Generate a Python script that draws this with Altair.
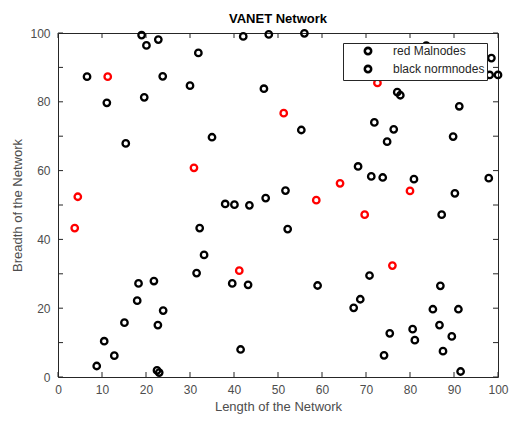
import altair as alt
import pandas as pd

red_x = [4.5, 3.8, 11.3, 30.9, 41.2, 51.3, 58.7, 64.1, 69.7, 72.6, 76.0, 80.0]
red_y = [52.4, 43.3, 87.3, 60.8, 30.9, 76.7, 51.4, 56.3, 47.2, 85.5, 32.4, 54.1]

black_x = [6.6, 11.1, 15.4, 19.0, 20.1, 22.8, 19.6, 23.8, 30.0, 31.9, 35.0, 42.1,
           47.9, 46.8, 56.0, 55.3, 83.7, 83.7, 98.5, 98.1, 100.0, 77.1, 77.8, 91.2,
           71.9, 76.3, 74.8, 89.8, 68.2, 71.2, 73.8, 80.9, 97.9, 51.7, 47.2, 90.2,
           38.0, 40.1, 43.5, 32.2, 33.2, 31.5, 39.6, 43.2, 18.3, 21.8, 18.0, 23.9,
           15.1, 22.7, 10.5, 12.8, 8.8, 22.5, 23.0, 41.5, 87.2, 52.2, 70.8, 59.0,
           86.9, 68.7, 67.2, 85.2, 91.0, 86.7, 80.6, 75.4, 81.1, 89.5, 74.1, 87.5,
           91.5]
black_y = [87.3, 79.7, 67.9, 99.4, 96.4, 98.1, 81.3, 87.4, 84.7, 94.2, 69.7, 99.0,
           99.6, 83.8, 99.9, 71.8, 96.3, 87.3, 92.7, 87.8, 87.8, 82.8, 81.9, 78.7,
           74.0, 72.0, 68.4, 69.9, 61.2, 58.3, 58.0, 57.5, 57.8, 54.2, 52.0, 53.4,
           50.3, 50.1, 49.9, 43.3, 35.5, 30.2, 27.2, 26.8, 27.2, 27.9, 22.2, 19.3,
           15.8, 15.1, 10.4, 6.2, 3.2, 1.9, 1.3, 8.0, 47.2, 43.0, 29.5, 26.6,
           26.5, 22.6, 20.1, 19.7, 19.7, 15.1, 13.9, 12.7, 10.7, 11.8, 6.3, 7.5,
           1.6]

series_names = ["red Malnodes", "black normnodes"]
series_colors = ["#ff0000", "#000000"]
tick_values = [0, 10, 20, 30, 40, 50, 60, 70, 80, 90, 100]

W, H = 440, 344
FONT = "Liberation Sans"
AX = "#262626"

df = pd.concat([
    pd.DataFrame({"x": red_x, "y": red_y, "series": series_names[0]}),
    pd.DataFrame({"x": black_x, "y": black_y, "series": series_names[1]}),
], ignore_index=True)
df["legend"] = df["series"]

xs = alt.Scale(domain=[0, 100], nice=False, zero=False)
ys = alt.Scale(domain=[0, 100], nice=False, zero=False)

points = alt.Chart(df).mark_point(filled=False, size=42, strokeWidth=2.3, opacity=1).encode(
    x=alt.X("x:Q", scale=xs, axis=alt.Axis(values=tick_values, title="Length of the Network",
                                           grid=False, domain=False, ticks=False, labelFlush=False,
                                           labelPadding=7, titlePadding=5)),
    y=alt.Y("y:Q", scale=ys, axis=alt.Axis(values=tick_values, title="Breadth of the Network",
                                           grid=False, domain=False, ticks=False, labelFlush=False,
                                           labelPadding=8, titlePadding=5)),
    # colour domain listed in a different order so that its (hidden) legend is not merged with the shape legend
    color=alt.Color("series:N", scale=alt.Scale(domain=series_names[::-1], range=series_colors[::-1]),
                    legend=None),
    shape=alt.Shape("legend:N", scale=alt.Scale(domain=series_names, range=["circle", "circle"]),
                    legend=alt.Legend(title=None, orient="none", legendX=285, legendY=10,
                                      strokeColor=AX, fillColor="white", padding=2,
                                      symbolOffset=17, labelOffset=19, rowPadding=0,
                                      symbolStrokeColor="black", symbolFillColor="transparent",
                                      symbolSize=40, symbolStrokeWidth=2.6,
                                      labelFont=FONT, labelFontSize=12, labelColor=AX)),
)

tdf = pd.DataFrame({"t": tick_values})
bottom = alt.Chart(tdf).mark_rule(color=AX, strokeWidth=1).encode(
    x=alt.X("t:Q", scale=xs), y=alt.value(H), y2=alt.value(H - 5))
top = alt.Chart(tdf).mark_rule(color=AX, strokeWidth=1).encode(
    x=alt.X("t:Q", scale=xs), y=alt.value(0), y2=alt.value(5))
left = alt.Chart(tdf).mark_rule(color=AX, strokeWidth=1).encode(
    y=alt.Y("t:Q", scale=ys), x=alt.value(0), x2=alt.value(5))
right = alt.Chart(tdf).mark_rule(color=AX, strokeWidth=1).encode(
    y=alt.Y("t:Q", scale=ys), x=alt.value(W), x2=alt.value(W - 5))

chart = alt.layer(bottom, top, left, right, points).properties(
    width=W, height=H,
    title=alt.TitleParams("VANET Network", font=FONT, fontSize=13, fontWeight="bold",
                          color="#000000", offset=0),
    autosize=alt.AutoSizeParams(type="none"),
    padding={"left": 50, "top": 25, "right": 11, "bottom": 37},
).configure_view(stroke=AX, strokeWidth=1).configure_axis(
    labelFont=FONT, labelFontSize=12, labelColor="#4d4d4d",
    titleFont=FONT, titleFontSize=13, titleColor="#4d4d4d", titleFontWeight="normal",
).configure_legend(symbolBaseStrokeColor="black", symbolBaseFillColor="transparent")

chart.save("out.html", embed_options={"renderer": "svg", "actions": False})
